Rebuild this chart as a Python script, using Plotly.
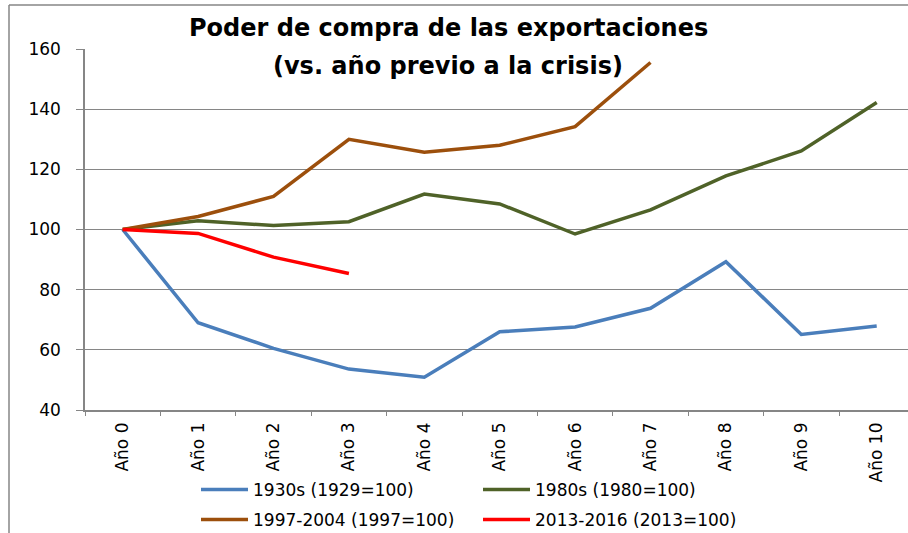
import plotly.graph_objects as go

categories = ["Año 0", "Año 1", "Año 2", "Año 3", "Año 4", "Año 5",
              "Año 6", "Año 7", "Año 8", "Año 9", "Año 10"]
s1930 = [100, 69.0, 60.5, 53.6, 50.9, 66.0, 67.6, 73.8, 89.3, 65.1, 67.9]
s1980 = [100, 102.9, 101.3, 102.6, 111.8, 108.5, 98.5, 106.5, 117.8, 126.1, 142.2]
s1997 = [100, 104.3, 111.0, 130.0, 125.7, 128.0, 134.2, 155.5]
s2013 = [100, 98.7, 90.8, 85.4]

names = ["1930s (1929=100)", "1980s (1980=100)",
         "1997-2004 (1997=100)", "2013-2016 (2013=100)"]
colors = ["#4A7EBB", "#4F6228", "#9C4F0C", "#FF0000"]
series = [s1930, s1980, s1997, s2013]
legend_ids = ["legend", "legend", "legend2", "legend2"]

W, H = 908, 533
L, R, T, B = 85, 0, 49, 123

fig = go.Figure()
for name, col, vals, lg in zip(names, colors, series, legend_ids):
    fig.add_trace(go.Scatter(
        x=categories[:len(vals)], y=vals, name=name, mode="lines",
        line=dict(color=col, width=3.5), legend=lg,
    ))

grid = "#868686"
leg_common = dict(
    orientation="h", xref="container", yref="container",
    xanchor="left", yanchor="middle",
    entrywidth=220, entrywidthmode="pixels", itemwidth=47,
    font=dict(family="DejaVu Sans", size=17),
    bgcolor="rgba(0,0,0,0)", borderwidth=0,
)
fig.update_layout(
    width=W, height=H,
    margin=dict(l=L, r=R, t=T, b=B, autoexpand=False),
    paper_bgcolor="white", plot_bgcolor="white",
    font=dict(family="DejaVu Sans", color="black"),
    showlegend=True,
    legend=dict(x=196 / W, y=1 - 490 / H, **leg_common),
    legend2=dict(x=196 / W, y=1 - 520 / H, **leg_common),
    xaxis=dict(
        type="category", categoryorder="array", categoryarray=categories,
        range=[-0.5, 10.415], automargin=False,
        showgrid=False, showline=True, linecolor=grid, linewidth=1.5,
        ticks="outside", tickson="boundaries", ticklen=4, tickcolor=grid,
        tickangle=-90, tickfont=dict(family="DejaVu Sans", size=17),
        ticklabelstandoff=4, fixedrange=True,
    ),
    yaxis=dict(
        range=[40, 160], tick0=40, dtick=20, automargin=False,
        showgrid=True, gridcolor=grid, gridwidth=1,
        showline=True, linecolor=grid, linewidth=1.5,
        ticks="outside", ticklen=7, tickcolor=grid,
        tickfont=dict(family="DejaVu Sans", size=17),
        ticklabelstandoff=12,
        zeroline=False, fixedrange=True,
    ),
)

pw = W - L - R
ph = H - T - B

def px_x(x):
    return (x - L) / pw

def px_y(y):
    return (H - B - y) / ph

fig.add_annotation(text="<b>Poder de compra de las exportaciones</b>",
                   xref="paper", yref="paper", x=px_x(448), y=px_y(28),
                   xanchor="center", yanchor="middle", showarrow=False,
                   font=dict(family="DejaVu Sans", size=24, color="black"))
fig.add_annotation(text="<b>(vs. año previo a la crisis)</b>",
                   xref="paper", yref="paper", x=px_x(448), y=px_y(66),
                   xanchor="center", yanchor="middle", showarrow=False,
                   font=dict(family="DejaVu Sans", size=24, color="black"))

# chart frame
fig.add_shape(type="line", xref="paper", yref="paper",
              x0=px_x(9), x1=px_x(9), y0=px_y(533), y1=px_y(5),
              line=dict(color=grid, width=1.5))
fig.add_shape(type="line", xref="paper", yref="paper",
              x0=px_x(9), x1=px_x(908), y0=px_y(5), y1=px_y(5),
              line=dict(color=grid, width=1.5))

fig.write_html("out.html",
               config={"displayModeBar": False},
               post_script="document.body.style.margin='0';"
                           "document.body.style.padding='0';")
